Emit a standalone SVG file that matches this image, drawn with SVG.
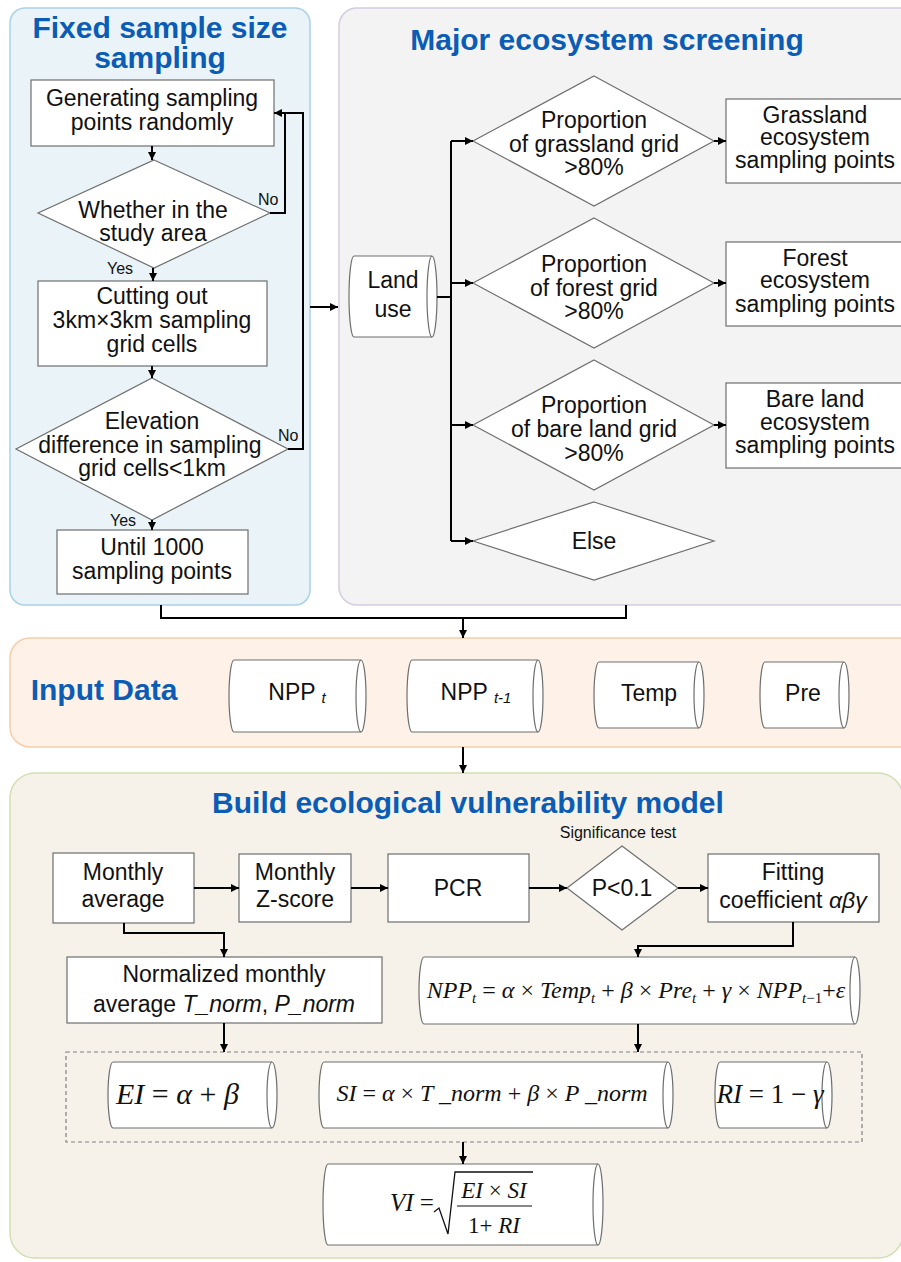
<svg xmlns="http://www.w3.org/2000/svg" width="901" height="1262" viewBox="0 0 901 1262">
<defs>
<style>
.title{font-family:"Liberation Sans",Arial,sans-serif;font-weight:bold;font-size:30px;fill:#0b5cb5;text-anchor:middle}
.t{font-family:"Liberation Sans",Arial,sans-serif;font-size:23px;fill:#111;text-anchor:middle}
.lbl{font-family:"Liberation Sans",Arial,sans-serif;font-size:16px;fill:#111}
.node{fill:#fff;stroke:#6e6e6e;stroke-width:1.2}
.conn{fill:none;stroke:#000;stroke-width:2}
.m{font-family:"Liberation Serif","Times New Roman",serif;font-style:italic;fill:#111}
.u{font-style:normal}
</style>
<marker id="arr" viewBox="0 0 10 10" refX="10" refY="5" markerWidth="10" markerHeight="8" markerUnits="userSpaceOnUse" orient="auto">
<path d="M0,0 L10,5 L0,10 z" fill="#000"/>
</marker>
</defs>
<rect width="901" height="1262" fill="#fff"/>

<!-- panels -->
<g id="panel-sampling"><rect x="10" y="8" width="300" height="597" rx="15" fill="#eaf3f8" stroke="#a8d2e6" stroke-width="1.5"/>
<text class="title" x="160" y="38">Fixed sample size</text><text class="title" x="160" y="68">sampling</text></g>
<g id="panel-screening"><rect x="339" y="8" width="590" height="597" rx="18" fill="#f3f3f4" stroke="#d4cbe0" stroke-width="1.5"/>
<text class="title" x="607" y="50">Major ecosystem screening</text></g>
<g id="panel-input"><rect x="10" y="638" width="910" height="109" rx="20" fill="#fef2e8" stroke="#f8cda8" stroke-width="1.5"/>
<text class="title" x="104" y="700">Input Data</text></g>
<g id="panel-model"><rect x="10" y="773" width="893" height="485" rx="25" fill="#f6f2ea" stroke="#d3dfb0" stroke-width="1.5"/>
<text class="title" x="468" y="813">Build ecological vulnerability model</text></g>

<!-- panel 1 nodes -->
<g id="n-generate"><rect class="node" x="31" y="80" width="243" height="66"/>
<text class="t" x="152" y="106">Generating sampling</text><text class="t" x="152" y="130">points randomly</text></g>
<g id="n-inarea"><polygon class="node" points="154,160 270,213 154,268 38,213"/>
<text class="t" x="153" y="218">Whether in the</text><text class="t" x="153" y="241">study area</text></g>
<g id="n-cut"><rect class="node" x="38" y="281" width="229" height="85"/>
<text class="t" x="152" y="304">Cutting out</text><text class="t" x="152" y="328">3km×3km sampling</text><text class="t" x="152" y="352">grid cells</text></g>
<g id="n-elev"><polygon class="node" points="152,378 288,449 152,520 16,449"/>
<text class="t" x="152" y="429">Elevation</text><text class="t" x="150" y="453">difference in sampling</text><text class="t" x="152" y="476">grid cells&lt;1km</text></g>
<g id="n-until"><rect class="node" x="57" y="530" width="191" height="64"/>
<text class="t" x="152" y="555">Until 1000</text><text class="t" x="152" y="579">sampling points</text></g>

<!-- panel 2 nodes -->
<g id="n-landuse"><path class="node" d="M354,256 H432 A5,40.5 0 0 1 432,337 H354 A5,40.5 0 0 1 354,256 Z"/><path d="M432,256 A5,40.5 0 0 0 432,337" fill="none" stroke="#6e6e6e" stroke-width="1.2"/>
<text class="t" x="393" y="288">Land</text><text class="t" x="393" y="317">use</text></g>
<g id="n-grass-d"><polygon class="node" points="594,76 714,141 594,206 473,141"/>
<text class="t" x="594" y="128">Proportion</text><text class="t" x="594" y="152">of grassland grid</text><text class="t" x="594" y="175">&gt;80%</text></g>
<g id="n-forest-d"><polygon class="node" points="594,218 714,283 594,348 473,283"/>
<text class="t" x="594" y="272">Proportion</text><text class="t" x="594" y="296">of forest grid</text><text class="t" x="594" y="319">&gt;80%</text></g>
<g id="n-bare-d"><polygon class="node" points="594,360 714,425 594,490 473,425"/>
<text class="t" x="594" y="413">Proportion</text><text class="t" x="594" y="437">of bare land grid</text><text class="t" x="594" y="461">&gt;80%</text></g>
<g id="n-else"><polygon class="node" points="594,502 714,541 594,580 473,541"/>
<text class="t" x="594" y="549">Else</text></g>
<g id="n-grass-b"><rect class="node" x="726" y="99" width="180" height="84"/>
<text class="t" x="815" y="123">Grassland</text><text class="t" x="815" y="145">ecosystem</text><text class="t" x="815" y="168">sampling points</text></g>
<g id="n-forest-b"><rect class="node" x="726" y="242" width="180" height="84"/>
<text class="t" x="815" y="266">Forest</text><text class="t" x="815" y="288">ecosystem</text><text class="t" x="815" y="312">sampling points</text></g>
<g id="n-bare-b"><rect class="node" x="726" y="383" width="180" height="85"/>
<text class="t" x="815" y="407">Bare land</text><text class="t" x="815" y="430">ecosystem</text><text class="t" x="815" y="453">sampling points</text></g>

<!-- input data nodes -->
<g id="n-nppt"><path class="node" d="M234,660 H361 A5,36 0 0 1 361,732 H234 A5,36 0 0 1 234,660 Z"/><path d="M361,660 A5,36 0 0 0 361,732" fill="none" stroke="#6e6e6e" stroke-width="1.2"/>
<text class="t" x="297" y="700">NPP <tspan font-style="italic" font-size="15" dy="3">t</tspan></text></g>
<g id="n-nppt1"><path class="node" d="M412,660 H538 A5,36 0 0 1 538,732 H412 A5,36 0 0 1 412,660 Z"/><path d="M538,660 A5,36 0 0 0 538,732" fill="none" stroke="#6e6e6e" stroke-width="1.2"/>
<text class="t" x="476" y="700">NPP <tspan font-style="italic" font-size="15" dy="3">t-1</tspan></text></g>
<g id="n-temp"><path class="node" d="M599,662 H699 A5,33 0 0 1 699,728 H599 A5,33 0 0 1 599,662 Z"/><path d="M699,662 A5,33 0 0 0 699,728" fill="none" stroke="#6e6e6e" stroke-width="1.2"/>
<text class="t" x="649" y="701">Temp</text></g>
<g id="n-pre"><path class="node" d="M765,662 H844 A5,33 0 0 1 844,728 H765 A5,33 0 0 1 765,662 Z"/><path d="M844,662 A5,33 0 0 0 844,728" fill="none" stroke="#6e6e6e" stroke-width="1.2"/>
<text class="t" x="803" y="701">Pre</text></g>

<!-- model nodes -->
<g id="n-mavg"><rect class="node" x="53" y="853" width="141" height="70"/>
<text class="t" x="123" y="880">Monthly</text><text class="t" x="123" y="907">average</text></g>
<g id="n-mz"><rect class="node" x="239" y="854" width="112" height="68"/>
<text class="t" x="295" y="880">Monthly</text><text class="t" x="295" y="907">Z-score</text></g>
<g id="n-pcr"><rect class="node" x="388" y="854" width="141" height="68"/>
<text class="t" x="458" y="896">PCR</text></g>
<g id="n-sig"><text class="lbl" x="618" y="838" text-anchor="middle">Significance test</text>
<polygon class="node" points="622,846 678,888 622,930 567,888"/>
<text class="t" x="622" y="896">P&lt;0.1</text></g>
<g id="n-fit"><rect class="node" x="708" y="854" width="171" height="68"/>
<text class="t" x="793" y="880">Fitting</text><text class="t" x="793" y="908">coefficient <tspan font-style="italic">αβγ</tspan></text></g>
<g id="n-norm"><rect class="node" x="67" y="957" width="315" height="66"/>
<text class="t" x="224" y="982">Normalized monthly</text><text class="t" x="224" y="1012">average <tspan font-style="italic">T_norm</tspan>, <tspan font-style="italic">P_norm</tspan></text></g>
<g id="n-npp-eq"><path class="node" d="M424,957 H855 A5,33.5 0 0 1 855,1024 H424 A5,33.5 0 0 1 424,957 Z"/><path d="M855,957 A5,33.5 0 0 0 855,1024" fill="none" stroke="#6e6e6e" stroke-width="1.2"/>
<text class="m" x="636" y="998" font-size="24" text-anchor="middle">NPP<tspan font-size="15" dy="5">t</tspan><tspan class="u" dy="-5"> = </tspan>α<tspan class="u"> × </tspan>Temp<tspan font-size="15" dy="5">t</tspan><tspan class="u" dy="-5"> + </tspan>β<tspan class="u"> × </tspan>Pre<tspan font-size="15" dy="5">t</tspan><tspan class="u" dy="-5"> + </tspan>γ<tspan class="u"> × </tspan>NPP<tspan font-size="15" dy="5">t<tspan class="u">−1</tspan></tspan><tspan class="u" dy="-5">+</tspan>ε</text></g>
<g id="n-group"><rect x="66" y="1052" width="796" height="90" fill="none" stroke="#808080" stroke-width="1.2" stroke-dasharray="4 3"/></g>
<g id="n-ei"><path class="node" d="M113,1062 H272 A5,33 0 0 1 272,1128 H113 A5,33 0 0 1 113,1062 Z"/><path d="M272,1062 A5,33 0 0 0 272,1128" fill="none" stroke="#6e6e6e" stroke-width="1.2"/>
<text class="m" x="116" y="1104" font-size="30">EI<tspan class="u"> = </tspan>α<tspan class="u"> + </tspan>β</text></g>
<g id="n-si"><path class="node" d="M324,1062 H668 A5,33 0 0 1 668,1128 H324 A5,33 0 0 1 324,1062 Z"/><path d="M668,1062 A5,33 0 0 0 668,1128" fill="none" stroke="#6e6e6e" stroke-width="1.2"/>
<text class="m" x="492" y="1101" font-size="24" text-anchor="middle">SI<tspan class="u"> = </tspan>α<tspan class="u"> × </tspan>T _norm<tspan class="u"> + </tspan>β<tspan class="u"> × </tspan>P _norm</text></g>
<g id="n-ri"><path class="node" d="M720,1062 H827 A5,33 0 0 1 827,1128 H720 A5,33 0 0 1 720,1062 Z"/><path d="M827,1062 A5,33 0 0 0 827,1128" fill="none" stroke="#6e6e6e" stroke-width="1.2"/>
<text class="m" x="770" y="1103" font-size="27" text-anchor="middle">RI<tspan class="u"> = 1 − </tspan>γ</text></g>
<g id="n-vi"><path class="node" d="M328,1164 H598 A5,40.5 0 0 1 598,1245 H328 A5,40.5 0 0 1 328,1164 Z"/><path d="M598,1164 A5,40.5 0 0 0 598,1245" fill="none" stroke="#6e6e6e" stroke-width="1.2"/>
<text class="m" x="390" y="1211" font-size="25">VI<tspan class="u"> =</tspan></text>
<path d="M434,1212 L439,1208 L448,1234 L455,1172 H533" fill="none" stroke="#111" stroke-width="1.3"/>
<line x1="457" y1="1206" x2="532" y2="1206" stroke="#111" stroke-width="1.2"/>
<text class="m" x="494" y="1198" font-size="23" text-anchor="middle">EI<tspan class="u"> × </tspan>SI</text>
<text class="m" x="494" y="1233" font-size="23" text-anchor="middle"><tspan class="u">1+ </tspan>RI</text></g>

<!-- connectors -->
<g id="connectors">
<path class="conn" d="M152,146 V160" marker-end="url(#arr)"/>
<path class="conn" d="M270,213 H285 V113"/>
<path class="conn" d="M288,449 H303 V113 H274" marker-end="url(#arr)"/>
<path class="conn" d="M153,268 V281" marker-end="url(#arr)"/>
<path class="conn" d="M152,366 V378" marker-end="url(#arr)"/>
<path class="conn" d="M152,520 V530" marker-end="url(#arr)"/>
<path class="conn" d="M310,307 H338" marker-end="url(#arr)"/>
<path class="conn" d="M437,297 H451 M451,141 V541"/>
<path class="conn" d="M451,141 H473" marker-end="url(#arr)"/>
<path class="conn" d="M451,283 H473" marker-end="url(#arr)"/>
<path class="conn" d="M451,425 H473" marker-end="url(#arr)"/>
<path class="conn" d="M451,541 H473" marker-end="url(#arr)"/>
<path class="conn" d="M714,141 H726" marker-end="url(#arr)"/>
<path class="conn" d="M714,283 H726" marker-end="url(#arr)"/>
<path class="conn" d="M714,425 H726" marker-end="url(#arr)"/>
<path class="conn" d="M161,605 V618 H626 V605"/>
<path class="conn" d="M463,618 V638" marker-end="url(#arr)"/>
<path class="conn" d="M463,747 V773" marker-end="url(#arr)"/>
<path class="conn" d="M194,888 H239" marker-end="url(#arr)"/>
<path class="conn" d="M351,888 H388" marker-end="url(#arr)"/>
<path class="conn" d="M529,888 H567" marker-end="url(#arr)"/>
<path class="conn" d="M678,888 H708" marker-end="url(#arr)"/>
<path class="conn" d="M124,923 V933 H224 V957" marker-end="url(#arr)"/>
<path class="conn" d="M793,922 V946 H638 V957" marker-end="url(#arr)"/>
<path class="conn" d="M224,1023 V1052" marker-end="url(#arr)"/>
<path class="conn" d="M638,1024 V1052" marker-end="url(#arr)"/>
<path class="conn" d="M463,1142 V1164" marker-end="url(#arr)"/>
</g>
<g id="edge-labels">
<text class="lbl" x="258" y="205">No</text>
<text class="lbl" x="107" y="274">Yes</text>
<text class="lbl" x="278" y="441">No</text>
<text class="lbl" x="110" y="526">Yes</text>
</g>
</svg>
